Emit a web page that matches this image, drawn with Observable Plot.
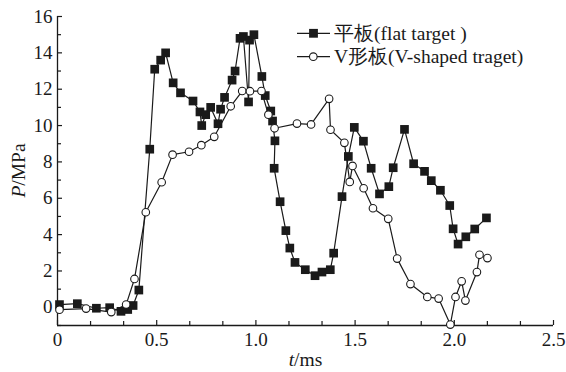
<!DOCTYPE html>
<html><head><meta charset="utf-8">
<script src="https://cdn.jsdelivr.net/npm/d3@7"></script>
<script src="https://cdn.jsdelivr.net/npm/@observablehq/plot@0.6"></script>
<style>
body{margin:0;background:#fff;}
#chart{position:relative;width:566px;height:372px;}
</style>
</head><body><div id="chart"></div>
<script>
// 平板 (flat target) — time (ms) and pressure (MPa)
const flatT = [0.01,0.10,0.196,0.263,0.32,0.354,0.381,0.41,0.465,0.49,0.52,0.545,0.583,0.62,0.683,0.718,0.727,0.747,0.772,0.809,0.822,0.842,0.88,0.895,0.92,0.937,0.963,0.968,0.99,1.03,1.047,1.075,1.084,1.096,1.092,1.122,1.151,1.171,1.197,1.249,1.298,1.333,1.375,1.392,1.434,1.466,1.496,1.542,1.581,1.623,1.670,1.692,1.749,1.795,1.850,1.884,1.930,1.977,1.994,2.019,2.058,2.103,2.162];
const flatP = [0.15,0.2,-0.05,-0.02,-0.22,-0.12,0.1,0.95,8.7,13.1,13.6,14.0,12.35,11.8,11.35,10.75,10.0,10.6,11.0,10.1,10.9,11.55,12.5,13.0,14.8,14.9,11.3,14.7,15.0,12.7,11.65,10.8,10.25,9.16,7.65,5.81,4.22,3.26,2.47,2.07,1.74,1.94,2.07,2.98,6.09,8.3,9.9,9.14,7.65,6.24,6.64,7.68,9.79,7.9,7.48,6.97,6.44,5.6,4.32,3.48,3.88,4.31,4.92];
// V形板 (V-shaped target)
const vT = [0.01,0.144,0.271,0.346,0.388,0.445,0.525,0.58,0.663,0.725,0.79,0.873,0.931,0.97,1.028,1.063,1.094,1.207,1.278,1.369,1.376,1.446,1.473,1.487,1.543,1.59,1.667,1.712,1.779,1.864,1.921,1.98,2.006,2.037,2.056,2.114,2.127,2.167];
const vP = [-0.13,-0.07,-0.26,0.15,1.56,5.23,6.88,8.4,8.56,8.92,9.38,11.06,11.9,11.89,11.9,10.6,9.85,10.11,10.06,11.47,9.77,9.05,6.9,7.78,6.55,5.45,4.87,2.68,1.28,0.57,0.48,-0.95,0.57,1.43,0.37,1.94,2.89,2.71];

const xTicks = [0, 0.5, 1.0, 1.5, 2.0, 2.5];
const xTickLabels = ["0", "0.5", "1.0", "1.5", "2.0", "2.5"];
const xMinor = [1/6, 2/6, 4/6, 5/6, 7/6, 8/6, 10/6, 11/6, 13/6, 14/6];
const yTicks = [0, 2, 4, 6, 8, 10, 12, 14, 16];
const yMinor = [-1, 1, 3, 5, 7, 9, 11, 13, 15];
const seriesNames = ["平板(flat target )", "V形板(V-shaped traget)"];
const xTitle = ["t", "/ms"];
const yTitle = ["P", "/MPa"];

const flat = flatT.map((t, i) => ({t, p: flatP[i]}));
const vee = vT.map((t, i) => ({t, p: vP[i]}));

const W = 566, H = 372, mL = 57, mR = 13, mT = 16, mB = 47;
const pw = W - mL - mR, ph = H - mT - mB;
const font = "'Liberation Serif','Times New Roman',serif";

const plot = Plot.plot({
  width: W, height: H,
  marginLeft: mL, marginRight: mR, marginTop: mT, marginBottom: mB,
  style: {fontFamily: font, fontSize: "19px", color: "#1a1a1a", background: "#fff", overflow: "visible"},
  x: {domain: [0, 2.5], ticks: xTicks, tickSize: 0, tickPadding: 7,
      tickFormat: d => xTickLabels[xTicks.indexOf(d)] ?? "", label: null},
  y: {domain: [-1, 16], ticks: yTicks, tickSize: 0, tickPadding: 5, label: null},
  marks: [
    Plot.ruleY([-1], {stroke: "#1a1a1a", strokeWidth: 1.3}),
    Plot.ruleX([0], {stroke: "#1a1a1a", strokeWidth: 1.3}),
    Plot.tickX(xTicks, {x: d => d, insetTop: ph - 5, stroke: "#1a1a1a", strokeWidth: 1.2}),
    Plot.tickX(xMinor, {x: d => d, insetTop: ph - 4, stroke: "#1a1a1a", strokeWidth: 1.2}),
    Plot.tickY(yTicks, {y: d => d, insetRight: pw - 5, stroke: "#1a1a1a", strokeWidth: 1.2}),
    Plot.tickY(yMinor, {y: d => d, insetRight: pw - 4, stroke: "#1a1a1a", strokeWidth: 1.2}),
    Plot.line(flat, {x: "t", y: "p", stroke: "#1a1a1a", strokeWidth: 1.2}),
    Plot.dot(flat, {x: "t", y: "p", symbol: "square", r: 4.9, fill: "#1a1a1a", stroke: "none"}),
    Plot.line(vee, {x: "t", y: "p", stroke: "#1a1a1a", strokeWidth: 1.2}),
    Plot.dot(vee, {x: "t", y: "p", symbol: "circle", r: 3.8, fill: "white", stroke: "#1a1a1a", strokeWidth: 1.1})
  ]
});
document.getElementById("chart").appendChild(plot);

const svg = d3.select(plot);
svg.selectAll("g[aria-label='x-axis tick label'], g[aria-label='y-axis tick label']")
  .attr("font-family", font).attr("font-size", 19);

// Legend and axis titles
const g = svg.append("g").attr("font-family", font).attr("font-size", 19.5).attr("fill", "#1a1a1a");
const rows = [33.3, 56.7];
rows.forEach((y, i) => {
  g.append("line").attr("x1", 297).attr("x2", 330).attr("y1", y).attr("y2", y)
    .attr("stroke", "#1a1a1a").attr("stroke-width", 1.2);
  if (i === 0) {
    g.append("rect").attr("x", 313.5 - 4.4).attr("y", y - 4.4).attr("width", 8.8).attr("height", 8.8).attr("fill", "#1a1a1a");
  } else {
    g.append("circle").attr("cx", 313.3).attr("cy", y).attr("r", 3.8).attr("fill", "white")
      .attr("stroke", "#1a1a1a").attr("stroke-width", 1.1);
  }
  g.append("text").attr("x", 334).attr("y", y + 6.5).attr("text-anchor", "start").text(seriesNames[i]);
});
const xt = g.append("text").attr("x", 305.5).attr("y", 366).attr("text-anchor", "middle");
xt.append("tspan").attr("font-style", "italic").text(xTitle[0]);
xt.append("tspan").text(xTitle[1]);
const yt = g.append("text").attr("transform", "translate(25,170.5) rotate(-90)").attr("text-anchor", "middle");
yt.append("tspan").attr("font-style", "italic").text(yTitle[0]);
yt.append("tspan").text(yTitle[1]);
</script>
</body></html>
